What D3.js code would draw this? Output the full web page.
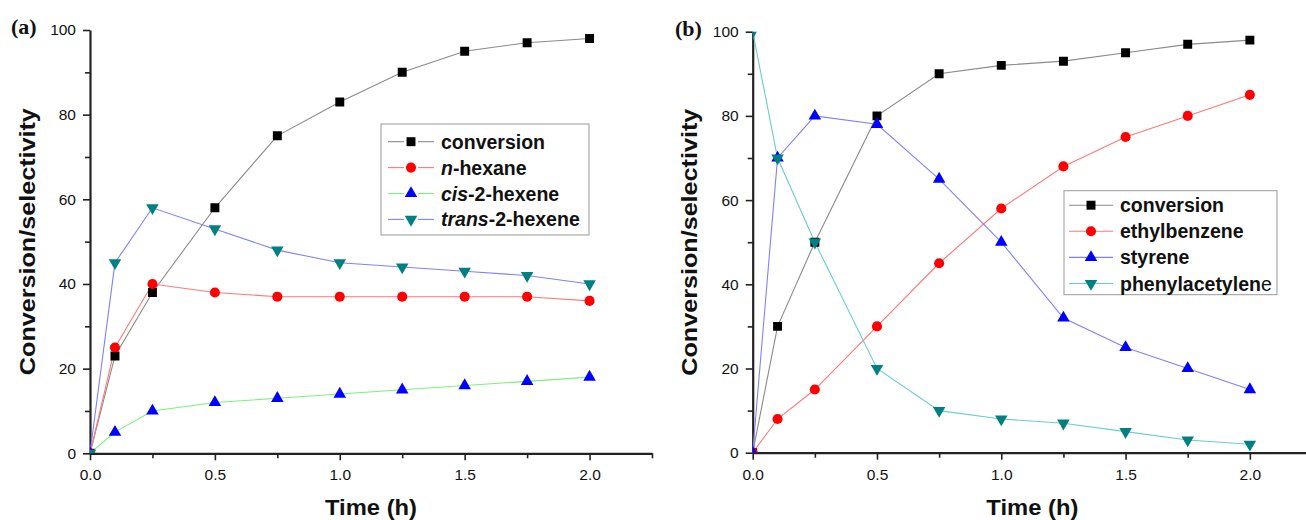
<!DOCTYPE html>
<html lang="en">
<head>
    <meta charset="UTF-8">
    <title>Conversion/selectivity vs time</title>
    <script src="https://cdn.jsdelivr.net/npm/d3@7/dist/d3.min.js"></script>
    <style>
        body { margin: 0; background: #ffffff; }
        text { fill: #111; }
    </style>
</head>
<body>
<svg id="mainsvg" width="1306" height="520" font-family='Arial, "Liberation Sans", sans-serif'></svg>
<script>
    //Data
    const timeH = [0, 0.1, 0.25, 0.5, 0.75, 1.0, 1.25, 1.5, 1.75, 2.0];

    //(a) hexyne hydrogenation
    const aConversion = [0, 23, 38, 58, 75, 83, 90, 95, 97, 98];
    const aNHexane    = [0, 25, 40, 38, 37, 37, 37, 37, 37, 36];
    const aCisHexene  = [0, 5, 10, 12, 13, 14, 15, 16, 17, 18];
    const aTransHexene = [0, 45, 58, 53, 48, 45, 44, 43, 42, 40];

    //(b) phenylacetylene hydrogenation
    const bConversion = [0, 30, 50, 80, 90, 92, 93, 95, 97, 98];
    const bEthylbenzene = [0, 8, 15, 30, 45, 58, 68, 75, 80, 85];
    const bStyrene = [0, 70, 80, 78, 65, 50, 32, 25, 20, 15];
    const bPhenylacetylene = [100, 70, 50, 20, 10, 8, 7, 5, 3, 2];

    const xMajorTicks = [0, 0.5, 1.0, 1.5, 2.0];
    const xMinorTicks = [0.25, 0.75, 1.25, 1.75, 2.25];
    const yMajorTicks = [0, 20, 40, 60, 80, 100];
    const yMinorTicks = [10, 30, 50, 70, 90];

    const sansFont = 'Arial, "Liberation Sans", sans-serif';
    const serifFont = '"Times New Roman", "Liberation Serif", serif';

    const mainsvg = d3.select('#mainsvg');

    const drawPanel = (cfg) => {
        const innerWidth = cfg.right - cfg.left;
        const innerHeight = cfg.bottom - cfg.top;
        const g = mainsvg.append('g')
            .attr('transform', `translate(${cfg.left}, ${cfg.top})`);

        const xScale = d3.scaleLinear().domain([0, 2.25]).range([0, innerWidth]);
        const yScale = d3.scaleLinear().domain([0, 100]).range([innerHeight, 0]);

        //clip so that markers sitting on the axes are cut like in the original
        g.append('clipPath').attr('id', cfg.id + '-clip')
            .append('rect')
            .attr('width', innerWidth).attr('height', innerHeight);

        //minor ticks
        g.append('g')
            .attr('transform', `translate(0, ${innerHeight})`)
            .call(d3.axisBottom(xScale).tickValues(xMinorTicks).tickSize(5).tickFormat(''))
            .call(a => a.select('.domain').remove());
        g.append('g')
            .call(d3.axisLeft(yScale).tickValues(yMinorTicks).tickSize(5).tickFormat(''))
            .call(a => a.select('.domain').remove());

        //xAxis
        const xAxis = g.append('g')
            .attr('transform', `translate(0, ${innerHeight})`)
            .call(d3.axisBottom(xScale).tickValues(xMajorTicks).tickSize(7).tickSizeOuter(0)
                .tickPadding(9).tickFormat(d3.format('.1f')));
        //yAxis
        const yAxis = g.append('g')
            .call(d3.axisLeft(yScale).tickValues(yMajorTicks).tickSize(7).tickSizeOuter(0)
                .tickPadding(7));

        g.selectAll('.tick line').attr('stroke', '#222').attr('stroke-width', 1.6);
        [xAxis, yAxis].forEach(a => {
            a.attr('font-family', sansFont).attr('font-size', 15.5);
            a.select('.domain').attr('stroke', '#222').attr('stroke-width', 2.2);
            a.selectAll('text').attr('fill', '#111');
        });

        //series
        const plot = g.append('g').attr('clip-path', `url(#${cfg.id}-clip)`);
        const line = d3.line().x((d, i) => xScale(timeH[i])).y(d => yScale(d));
        cfg.series.forEach(s => {
            plot.append('path')
                .datum(s.values)
                .attr('fill', 'none')
                .attr('stroke', s.line)
                .attr('stroke-width', 1.1)
                .attr('d', line);
        });
        cfg.series.forEach(s => {
            plot.selectAll(null)
                .data(s.values)
                .join('path')
                .attr('transform', (d, i) => `translate(${xScale(timeH[i])}, ${yScale(d)})` + (s.down ? ' rotate(180)' : ''))
                .attr('d', d3.symbol().type(s.symbol).size(s.size))
                .attr('fill', s.fill);
        });

        //axis titles
        mainsvg.append('text')
            .attr('transform', `translate(${cfg.left - 63}, ${cfg.top + innerHeight / 2}) rotate(-90)`)
            .attr('text-anchor', 'middle')
            .attr('dominant-baseline', 'central')
            .attr('font-size', 22)
            .attr('font-weight', 'bold')
            .attr('textLength', 267)
            .attr('lengthAdjust', 'spacingAndGlyphs')
            .text('Conversion/selectivity');
        mainsvg.append('text')
            .attr('x', cfg.left + innerWidth / 2)
            .attr('y', 515)
            .attr('text-anchor', 'middle')
            .attr('font-size', 22)
            .attr('font-weight', 'bold')
            .attr('textLength', 92)
            .attr('lengthAdjust', 'spacingAndGlyphs')
            .text('Time (h)');

        //panel label
        mainsvg.append('text')
            .attr('x', cfg.labelX)
            .attr('y', cfg.labelY)
            .attr('font-family', serifFont)
            .attr('font-size', 22)
            .attr('font-weight', 'bold')
            .text(cfg.label);

        //Legend
        const lg = mainsvg.append('g')
            .attr('transform', `translate(${cfg.legend.x}, ${cfg.legend.y})`);
        lg.append('rect')
            .attr('width', cfg.legend.w).attr('height', cfg.legend.h)
            .attr('fill', '#ffffff').attr('stroke', '#999').attr('stroke-width', 1);
        cfg.series.forEach((s, i) => {
            const row = lg.append('g')
                .attr('transform', `translate(0, ${cfg.legend.firstRow + i * cfg.legend.rowStep})`);
            if (cfg.legend.gap) {
                row.append('line').attr('x1', 7).attr('x2', 23).attr('stroke', s.line).attr('stroke-width', 1.1);
                row.append('line').attr('x1', 37).attr('x2', 53).attr('stroke', s.line).attr('stroke-width', 1.1);
            } else {
                row.append('line').attr('x1', 5).attr('x2', 49).attr('stroke', s.line).attr('stroke-width', 1.1);
            }
            row.append('path')
                .attr('transform', `translate(${cfg.legend.markerX}, 0)` + (s.down ? ' rotate(180)' : ''))
                .attr('d', d3.symbol().type(s.symbol).size(s.size))
                .attr('fill', s.fill);
            const t = row.append('text')
                .attr('x', cfg.legend.textX)
                .attr('dominant-baseline', 'central')
                .attr('font-size', 19.5)
                .attr('font-weight', 'bold');
            s.label.forEach(p => {
                t.append('tspan')
                    .attr('font-style', p.italic ? 'italic' : 'normal')
                    .attr('font-weight', p.normal ? 'normal' : 'bold')
                    .text(p.text);
            });
        });
    };

    const square = {symbol: d3.symbolSquare, size: 80, fill: '#000000', line: '#8a8a8a'};
    const circle = {symbol: d3.symbolCircle, size: 80, fill: '#ff0000', line: '#ff7878'};
    const triUp = {symbol: d3.symbolTriangle, size: 68, fill: '#0000ff'};
    const triDown = {symbol: d3.symbolTriangle, size: 68, fill: '#008080', down: true};

    drawPanel({
        id: 'pa', left: 90, right: 652, top: 30, bottom: 453.3,
        label: '(a)', labelX: 11, labelY: 34,
        legend: {x: 381, y: 124, w: 208, h: 111, firstRow: 17.7, rowStep: 25.9, gap: true, markerX: 30, textX: 60},
        series: [
            {...square, values: aConversion, label: [{text: 'conversion'}]},
            {...circle, values: aNHexane, label: [{text: 'n', italic: true}, {text: '-hexane'}]},
            {...triUp, line: '#7ef07e', values: aCisHexene, label: [{text: 'cis', italic: true}, {text: '-2-hexene'}]},
            {...triDown, line: '#8080ff', values: aTransHexene, label: [{text: 'trans', italic: true}, {text: '-2-hexene'}]}
        ]
    });

    drawPanel({
        id: 'pb', left: 752.7, right: 1312, top: 31.7, bottom: 452.7,
        label: '(b)', labelX: 675, labelY: 36,
        legend: {x: 1064, y: 190.7, w: 213, h: 104, firstRow: 14.5, rowStep: 26.1, gap: false, markerX: 27, textX: 56},
        series: [
            {...square, values: bConversion, label: [{text: 'conversion'}]},
            {...circle, values: bEthylbenzene, label: [{text: 'ethylbenzene'}]},
            {...triUp, line: '#8080ff', values: bStyrene, label: [{text: 'styrene'}]},
            {...triDown, line: '#6ccccc', values: bPhenylacetylene, label: [{text: 'phenylacetylen'}, {text: 'e', normal: true}]}
        ]
    });
</script>
</body>
</html>
